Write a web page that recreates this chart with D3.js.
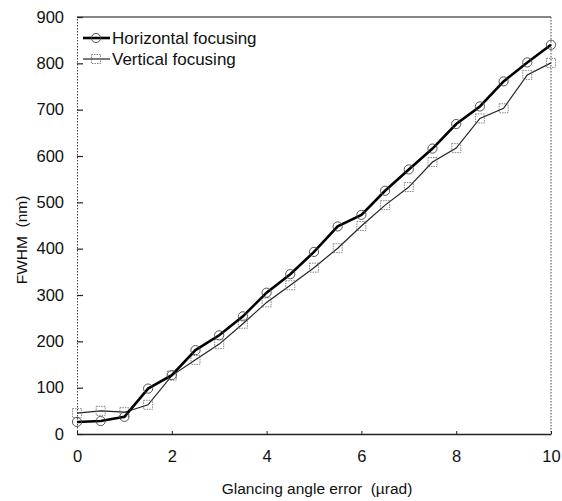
<!DOCTYPE html>
<html>
<head>
<meta charset="utf-8">
<script src="https://cdn.jsdelivr.net/npm/d3@7/dist/d3.min.js"></script>
<style>
  html, body { margin: 0; padding: 0; background: #fff; }
  svg { display: block; font-family: "Liberation Sans", Arial, sans-serif; }
  text { white-space: pre; }
</style>
</head>
<body>
<svg id="chart" width="562" height="501"></svg>
<script>
// Glancing angle error (µrad) sampled every 0.5
const angleError = [0, 0.5, 1, 1.5, 2, 2.5, 3, 3.5, 4, 4.5, 5, 5.5, 6, 6.5, 7, 7.5, 8, 8.5, 9, 9.5, 10];
// FWHM (nm) of the focused spot
const horizontalFWHM = [26, 28, 37, 98, 127, 181, 213, 254, 305, 345, 393, 448, 473, 525, 571, 616, 669, 707, 761, 802, 840];
const verticalFWHM   = [45, 50, 47, 63, 126, 160, 194, 238, 284, 321, 359, 401, 449, 494, 533, 587, 617, 681, 703, 775, 801];
const xTicks = [0, 2, 4, 6, 8, 10];
const yTicks = [0, 100, 200, 300, 400, 500, 600, 700, 800, 900];
const seriesNames = ["Horizontal focusing", "Vertical focusing"];

const svg = d3.select("#chart");
const margin = { left: 77, right: 11, top: 17, bottom: 67 };
const W = 562, H = 501;

const x = d3.scaleLinear().domain([0, 10]).range([margin.left, W - margin.right]);
const y = d3.scaleLinear().domain([0, 900]).range([H - margin.bottom, margin.top]);

// Frame: solid top and bottom, dotted sides
svg.append("line")
  .attr("x1", x(0)).attr("x2", x(10)).attr("y1", y(900)).attr("y2", y(900))
  .attr("stroke", "#111").attr("stroke-width", 1.2);
svg.append("line")
  .attr("x1", x(10)).attr("x2", x(10)).attr("y1", y(900)).attr("y2", y(0))
  .attr("stroke", "#444").attr("stroke-width", 1).attr("stroke-dasharray", "1.5,1.5");

// Y axis
const yAxis = d3.axisLeft(y).tickValues(yTicks).tickSizeInner(-6).tickSizeOuter(0).tickPadding(13);
const gy = svg.append("g").attr("transform", `translate(${margin.left},0)`).call(yAxis);
gy.select(".domain").attr("stroke", "#444").attr("stroke-dasharray", "1.5,1.5");
gy.selectAll(".tick line").attr("stroke", "#222").attr("stroke-width", 1.2);
gy.selectAll(".tick text").attr("font-size", 16.5).attr("fill", "#111")
  .attr("font-family", "Liberation Sans, Arial, sans-serif");

// X axis
const xAxis = d3.axisBottom(x).tickValues(xTicks).tickSizeInner(-3).tickSizeOuter(0).tickPadding(16);
const gx = svg.append("g").attr("transform", `translate(0,${y(0)})`).call(xAxis);
gx.select(".domain").attr("stroke", "#222").attr("stroke-width", 1.3);
gx.selectAll(".tick line").attr("stroke", "#222");
gx.selectAll(".tick text").attr("font-size", 16.5).attr("fill", "#111")
  .attr("font-family", "Liberation Sans, Arial, sans-serif");

// Axis titles
svg.append("text")
  .attr("x", 317).attr("y", 494)
  .attr("text-anchor", "middle").attr("font-size", 15.5).attr("fill", "#111")
  .text("Glancing angle error  (\u00b5rad)");
svg.append("text")
  .attr("transform", `translate(27,240) rotate(-90)`)
  .attr("text-anchor", "middle").attr("font-size", 15.5).attr("fill", "#111")
  .text("FWHM  (nm)");

const line = d3.line().x(d => x(d[0])).y(d => y(d[1]));
const hPts = angleError.map((a, i) => [a, horizontalFWHM[i]]);
const vPts = angleError.map((a, i) => [a, verticalFWHM[i]]);

// Vertical focusing: thin line with dotted square markers
svg.append("path").datum(vPts).attr("d", line)
  .attr("fill", "none").attr("stroke", "#222").attr("stroke-width", 1.2);
svg.append("g").selectAll("rect").data(vPts).join("rect")
  .attr("x", d => x(d[0]) - 4.5).attr("y", d => y(d[1]) - 4.5)
  .attr("width", 9).attr("height", 9)
  .attr("fill", "none").attr("stroke", "#666").attr("stroke-width", 0.8)
  .attr("stroke-dasharray", "1.5,1");

// Horizontal focusing: thick line with open circle markers
svg.append("path").datum(hPts).attr("d", line)
  .attr("fill", "none").attr("stroke", "#000").attr("stroke-width", 2.6);
svg.append("g").selectAll("circle").data(hPts).join("circle")
  .attr("cx", d => x(d[0])).attr("cy", d => y(d[1])).attr("r", 4.6)
  .attr("fill", "none").attr("stroke", "#444").attr("stroke-width", 0.9);

// Legend
const legend = svg.append("g");
const legY = [38, 59];
legend.append("line").attr("x1", 83).attr("x2", 110).attr("y1", legY[0]).attr("y2", legY[0])
  .attr("stroke", "#000").attr("stroke-width", 2.6);
legend.append("circle").attr("cx", 96).attr("cy", legY[0]).attr("r", 4.6)
  .attr("fill", "none").attr("stroke", "#444").attr("stroke-width", 0.9);
legend.append("line").attr("x1", 83).attr("x2", 110).attr("y1", legY[1]).attr("y2", legY[1])
  .attr("stroke", "#222").attr("stroke-width", 1.2);
legend.append("rect").attr("x", 91.5).attr("y", legY[1] - 4.5).attr("width", 9).attr("height", 9)
  .attr("fill", "none").attr("stroke", "#666").attr("stroke-width", 0.8).attr("stroke-dasharray", "1.5,1");
legend.selectAll("text").data(seriesNames).join("text")
  .attr("x", 112).attr("y", (d, i) => legY[i]).attr("dy", "0.36em")
  .attr("font-size", 17).attr("fill", "#111")
  .text(d => d);
</script>
</body>
</html>
